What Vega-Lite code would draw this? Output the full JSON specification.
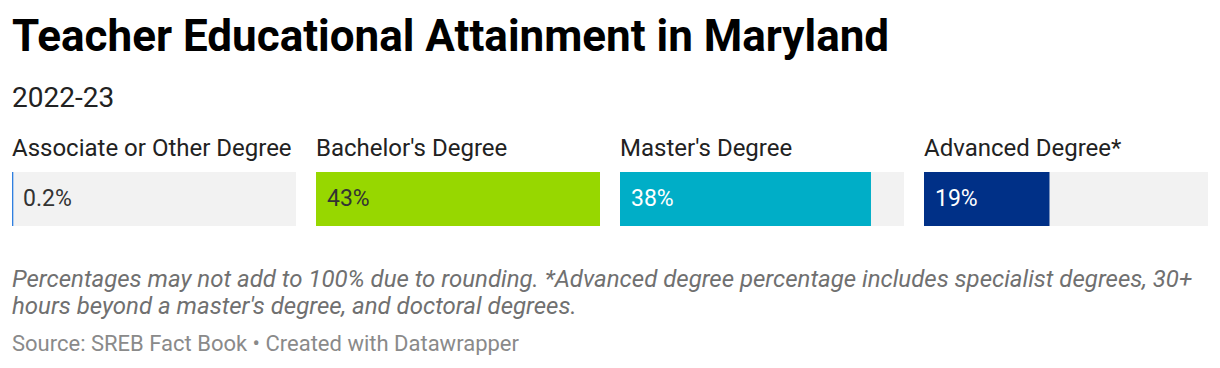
{
  "$schema": "https://vega.github.io/schema/vega-lite/v6.json",
  "background": "white",
  "padding": {"left": 12, "top": 16, "right": 0, "bottom": 0},
  "title": {
    "text": "Teacher Educational Attainment in Maryland",
    "subtitle": "2022-23",
    "anchor": "start",
    "font": "Roboto",
    "fontSize": 44,
    "fontWeight": "bold",
    "color": "#000000",
    "subtitleFont": "Roboto",
    "subtitleFontSize": 28,
    "subtitleColor": "#222222",
    "subtitlePadding": 25,
    "offset": 24
  },
  "vconcat": [
    {
      "data": {
        "values": [
          {"label": "Associate or Other Degree", "value": 0.2},
          {"label": "Bachelor's Degree", "value": 43},
          {"label": "Master's Degree", "value": 38},
          {"label": "Advanced Degree*", "value": 19}
        ]
      },
      "transform": [
        {"calculate": "format(datum.value, '~g') + '%'", "as": "pct"}
      ],
      "facet": {
        "column": {
          "field": "label",
          "type": "nominal",
          "sort": ["Associate or Other Degree", "Bachelor's Degree", "Master's Degree", "Advanced Degree*"],
          "title": null,
          "header": {
            "labelOrient": "top",
            "labelAnchor": "start",
            "labelAlign": "left",
            "labelFont": "Roboto",
            "labelFontSize": 24,
            "labelColor": "#222222",
            "labelPadding": 11
          }
        }
      },
      "spacing": 20,
      "resolve": {"scale": {"y": "independent"}},
      "spec": {
        "width": 284,
        "height": 54,
        "encoding": {
          "y": {"field": "label", "type": "nominal", "axis": null, "scale": {"paddingInner": 0, "paddingOuter": 0}}
        },
        "layer": [
          {
            "mark": {"type": "bar", "color": "#f2f2f2"},
            "encoding": {
              "x": {"datum": 0, "type": "quantitative", "scale": {"domain": [0, 43], "nice": false}, "axis": null},
              "x2": {"datum": 43}
            }
          },
          {
            "mark": {"type": "bar"},
            "encoding": {
              "x": {"field": "value", "type": "quantitative", "scale": {"domain": [0, 43], "nice": false}, "axis": null},
              "color": {
                "field": "label",
                "type": "nominal",
                "legend": null,
                "scale": {
                  "domain": ["Associate or Other Degree", "Bachelor's Degree", "Master's Degree", "Advanced Degree*"],
                  "range": ["#2f7fe0", "#97d700", "#00aec7", "#003087"]
                }
              }
            }
          },
          {
            "mark": {"type": "text", "align": "left", "baseline": "middle", "dx": 11, "font": "Roboto", "fontSize": 23},
            "encoding": {
              "x": {"datum": 0, "type": "quantitative"},
              "text": {"field": "pct"},
              "color": {
                "condition": {"test": "datum.value > 10 && datum.value < 40", "value": "#ffffff"},
                "value": "#333333"
              }
            }
          }
        ]
      },
      "title": {
        "text": [
          "Percentages may not add to 100% due to rounding. *Advanced degree percentage includes specialist degrees, 30+",
          "hours beyond a master's degree, and doctoral degrees."
        ],
        "orient": "bottom",
        "anchor": "start",
        "font": "Roboto",
        "fontSize": 24,
        "fontStyle": "italic",
        "fontWeight": "normal",
        "color": "#707070",
        "lineHeight": 27,
        "offset": 42,
        "subtitle": "Source: SREB Fact Book • Created with Datawrapper",
        "subtitleFont": "Roboto",
        "subtitleFontSize": 22,
        "subtitleColor": "#8a8a8a",
        "subtitlePadding": 15
      }
    }
  ],
  "config": {
    "view": {"stroke": null},
    "concat": {"spacing": 0}
  }
}
